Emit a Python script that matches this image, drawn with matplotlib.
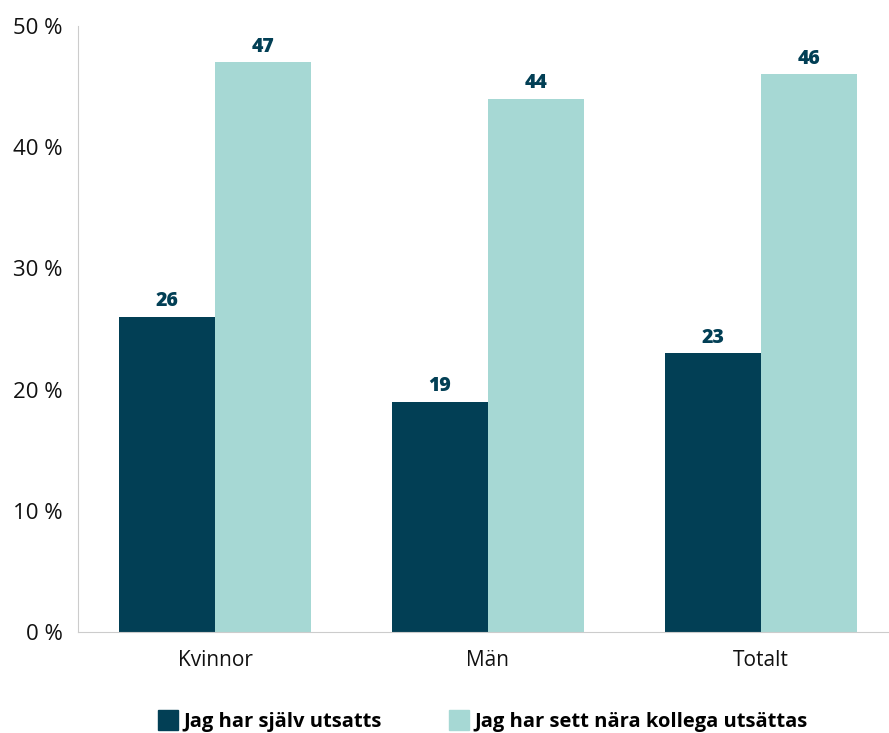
import matplotlib
matplotlib.use("Agg")
import matplotlib.pyplot as plt
from matplotlib.lines import Line2D
import numpy as np

categories = ["Kvinnor", "Män", "Totalt"]
series_names = ["Jag har själv utsatts", "Jag har sett nära kollega utsättas"]
self_exposed = [26, 19, 23]
seen_colleague = [47, 44, 46]
yticks = [0, 10, 20, 30, 40, 50]
ytick_labels = ["0 %", "10 %", "20 %", "30 %", "40 %", "50 %"]

dark = "#023F55"
light = "#A6D8D4"

plt.rcParams['font.family'] = ['Open Sans', 'DejaVu Sans']

fig = plt.figure(figsize=(8.89, 7.33), dpi=100)
ax = fig.add_axes([0.0877, 0.1378, 0.9123, 0.8267])

x = np.arange(len(categories))
w = 0.352
b1 = ax.bar(x - w / 2, self_exposed, width=w, color=dark)
b2 = ax.bar(x + w / 2, seen_colleague, width=w, color=light)

for bars, vals in ((b1, self_exposed), (b2, seen_colleague)):
    for r, v in zip(bars, vals):
        ax.text(r.get_x() + r.get_width() / 2, v + 0.45, str(v), ha='center', va='bottom',
                fontsize=14, fontweight='heavy', color=dark)

ax.set_xlim(-0.502, 2.469)
ax.set_ylim(0, 50)
ax.set_yticks(yticks)
ax.set_yticklabels(ytick_labels, fontsize=16)
ax.set_xticks(x)
ax.set_xticklabels(categories, fontsize=15)
ax.tick_params(axis='both', length=0, colors='#111111')
ax.tick_params(axis='x', pad=13)
ax.tick_params(axis='y', pad=11)

for s in ('top', 'right'):
    ax.spines[s].set_visible(False)
ax.spines['left'].set_color('#CCCCCC')
ax.spines['bottom'].set_color('#CCCCCC')

handles = [Line2D([], [], marker='s', linestyle='none', markersize=15, color=dark),
           Line2D([], [], marker='s', linestyle='none', markersize=15, color=light)]
leg = fig.legend(handles, series_names, loc='lower center', bbox_to_anchor=(0.543, -0.023), ncol=2,
                 frameon=False, prop={'weight': 'bold', 'size': 14.5}, handletextpad=0.3,
                 columnspacing=3.3, handlelength=1.0)

fig.savefig("out.png", dpi=100)
